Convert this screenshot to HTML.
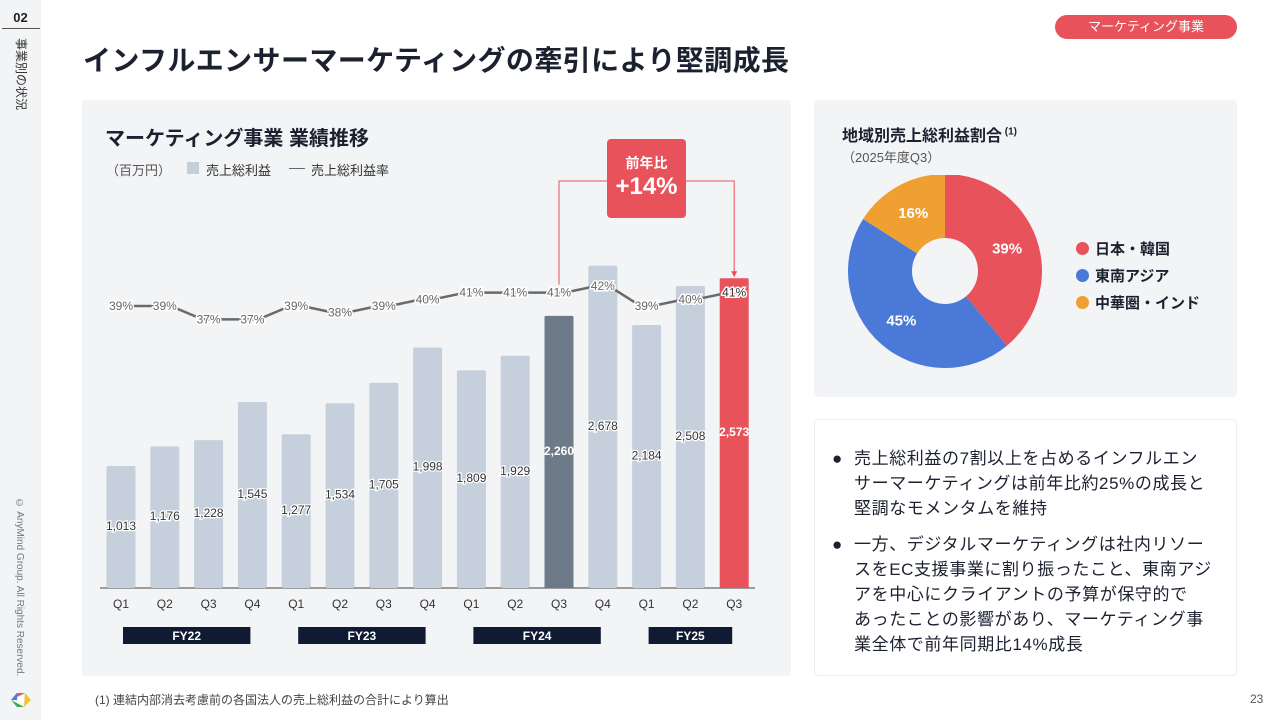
<!DOCTYPE html>
<html><head><meta charset="utf-8"><style>
*{margin:0;padding:0;box-sizing:border-box}
body{width:1280px;height:720px;background:#fff;font-family:"Liberation Sans","Noto Sans CJK JP",sans-serif;position:relative;overflow:hidden;color:#222}
.abs{position:absolute}
</style></head><body>
<div class="abs" style="left:0;top:0;width:41px;height:720px;background:#f3f4f6"></div>
<div class="abs" style="left:0;top:10px;width:41px;text-align:center;font-size:13px;font-weight:bold">02</div>
<div class="abs" style="left:2px;top:28px;width:38px;height:1px;background:#555"></div>
<div class="abs" style="left:13px;top:38px;writing-mode:vertical-rl;text-orientation:sideways;font-size:12px;color:#333">事業別の状況</div>
<div class="abs" style="left:14px;top:498px;writing-mode:vertical-rl;font-size:10px;color:#777">© AnyMind Group. All Rights Reserved.</div>
<svg class="abs" style="left:10px;top:690px" width="22" height="20"><path d="M1 10 L7 3 L15 3 Z" fill="#e8524f"/><path d="M15 3 L21 10 L14 17 Z" fill="#f3c331"/><path d="M1 10 L14 17 L7 17 Z" fill="#3aa957"/><path d="M7 3 L1 10 L7 10 Z" fill="#4a7ddf"/><circle cx="11" cy="10" r="3.5" fill="#fff"/></svg>
<div class="abs" style="left:83px;top:39px;font-size:28px;letter-spacing:0.4px;font-weight:bold;color:#1c2130">インフルエンサーマーケティングの牽引により堅調成長</div>
<div class="abs" style="left:1055px;top:15px;width:182px;height:24px;border-radius:12px;background:#e8525a;color:#fff;font-size:13px;text-align:center;line-height:24px">マーケティング事業</div>

<div class="abs" style="left:82px;top:100px;width:709px;height:576px;background:#f3f4f6;border-radius:4px"></div>
<div class="abs" style="left:105px;top:122px;font-size:20px;font-weight:bold;color:#1c2130">マーケティング事業 業績推移</div>
<div class="abs" style="left:106px;top:160px;font-size:13px;color:#555">（百万円）</div>
<div class="abs" style="left:187px;top:162px;width:12px;height:12px;background:#c6d0dc"></div>
<div class="abs" style="left:206px;top:160px;font-size:13px;color:#333">売上総利益</div>
<div class="abs" style="left:289px;top:168px;width:16px;height:1px;background:#666"></div>
<div class="abs" style="left:311px;top:160px;font-size:13px;color:#333">売上総利益率</div>

<svg class="abs" id="chart" style="left:0;top:0" width="800" height="680"></svg>

<div class="abs" style="left:607px;top:139px;width:79px;height:79px;background:#e8525a;border-radius:4px;color:#fff;text-align:center">
<div style="font-size:14px;font-weight:bold;margin-top:14px">前年比</div>
<div style="font-size:24px;font-weight:bold;margin-top:0px">+14%</div></div>

<div class="abs" style="left:814px;top:100px;width:423px;height:297px;background:#f3f4f6;border-radius:4px"></div>
<div class="abs" style="left:842px;top:122px;font-size:16px;font-weight:bold;color:#1c2130">地域別売上総利益割合<sup style="font-size:10px"> (1)</sup></div>
<div class="abs" style="left:842px;top:147px;font-size:13px;color:#555">（2025年度Q3）</div>
<svg class="abs" id="pie" style="left:840px;top:175px" width="210" height="205"></svg>
<div class="abs" style="left:1076px;top:236px;font-size:15px;font-weight:bold;color:#1c2130;line-height:27px">
<div><span style="display:inline-block;width:13px;height:13px;border-radius:50%;background:#e8525a;vertical-align:-1px;margin-right:6px"></span>日本・韓国</div>
<div><span style="display:inline-block;width:13px;height:13px;border-radius:50%;background:#4b79d8;vertical-align:-1px;margin-right:6px"></span>東南アジア</div>
<div><span style="display:inline-block;width:13px;height:13px;border-radius:50%;background:#f0a030;vertical-align:-1px;margin-right:6px"></span>中華圏・インド</div>
</div>

<div class="abs" style="left:814px;top:419px;width:423px;height:257px;border:1px solid #eceef1;border-radius:4px"></div>
<div class="abs" style="left:832px;top:446px;width:400px;font-size:17px;letter-spacing:0.6px;color:#1c2130;line-height:25px;white-space:nowrap">
<div style="display:flex"><span style="width:22px">●</span><span style="flex:1">売上総利益の7割以上を占めるインフルエン<br>サーマーケティングは前年比約25%の成長と<br>堅調なモメンタムを維持</span></div>
<div style="display:flex;margin-top:11px"><span style="width:22px">●</span><span style="flex:1">一方、デジタルマーケティングは社内リソー<br>スをEC支援事業に割り振ったこと、東南アジ<br>アを中心にクライアントの予算が保守的で<br>あったことの影響があり、マーケティング事<br>業全体で前年同期比14%成長</span></div>
</div>
<div class="abs" style="left:95px;top:691px;font-size:12px;color:#444">(1) 連結内部消去考慮前の各国法人の売上総利益の合計により算出</div>
<div class="abs" style="left:1250px;top:692px;font-size:12px;color:#555">23</div>

<script>
const quarters=["Q1","Q2","Q3","Q4","Q1","Q2","Q3","Q4","Q1","Q2","Q3","Q4","Q1","Q2","Q3"];
const profit=[1013,1176,1228,1545,1277,1534,1705,1998,1809,1929,2260,2678,2184,2508,2573];
const margin=[39,39,37,37,39,38,39,40,41,41,41,42,39,40,41];
const fyLabels=["FY22","FY23","FY24","FY25"];
const fyStart=[0,4,8,12];
const fyEnd=[3,7,11,14];
const pieLabels=["39%","45%","16%"];
const pieValues=[39,45,16];
const pieColors=["#e8525a","#4b79d8","#f0a030"];

const NS="http://www.w3.org/2000/svg";
const svg=document.getElementById('chart');
function mk(t,a,p){const e=document.createElementNS(NS,t);for(const k in a)e.setAttribute(k,a[k]);(p||svg).appendChild(e);return e;}
const base=588;
const x=i=>121+i*43.8;
const yb=v=>base-v*0.1204;
const yl=p=>306-(p-39)*6.7;
const bl=mk('line',{x1:100,x2:755,y1:base,y2:base,stroke:'#444','stroke-width':1});


profit.forEach((v,i)=>{
  const col=i==10?'#6f7a88':i==14?'#e8525a':'#c6d0dc';
  const r=mk('rect',{x:x(i)-14.5,y:yb(v),width:29,height:base-yb(v),fill:col,rx:1.5});
  
  
  const hl=i==10||i==14;
  const t=mk('text',{x:x(i),y:yb(v)+(base-yb(v))*0.5+3,'text-anchor':'middle','font-size':12,fill:hl?'#fff':'#333','font-weight':hl?'bold':'normal',stroke:hl?(i==10?'#6f7a88':'#e8525a'):'#fff','stroke-width':hl?0:2.5,'paint-order':'stroke'});
  t.textContent=v.toLocaleString('en-US');
  
  
  const q=mk('text',{x:x(i),y:608,'text-anchor':'middle','font-size':12,fill:'#333'});
  q.textContent=quarters[i];
  
  
});
let d='';
margin.forEach((p,i)=>{d+=(i?'L':'M')+(x(i)+(i?-6:0))+' '+yl(p)+(i<14?' L'+(x(i)+6)+' '+yl(p)+' ':'');});
const pl=mk('path',{d:d,fill:'none',stroke:'#6a6a6a','stroke-width':2.5});


margin.forEach((p,i)=>{
  const t=mk('text',{x:x(i),y:yl(p)+4,'text-anchor':'middle','font-size':12,fill:i==14?'#333':'#666',stroke:'#fff','stroke-width':3,'paint-order':'stroke'});
  t.textContent=p+'%';
  
  
});
fyLabels.forEach((l,k)=>{
  const x0=x(fyStart[k])+2, x1=x(fyEnd[k])-2;
  const r=mk('rect',{x:x0,y:627,width:x1-x0,height:17,fill:'#101b33'});
  
  
  const t=mk('text',{x:(x0+x1)/2,y:640,'text-anchor':'middle','font-size':12,'font-weight':'bold',fill:'#fff'});
  t.textContent=l;
  
  
});
const c=mk('path',{d:`M${x(10)} ${yl(41)-8} V181 H607 M686 181 H${x(14)} V${yb(2573)-6}`,fill:'none',stroke:'#e8525a','stroke-width':1});


const ar=mk('path',{d:`M${x(14)-3} ${yb(2573)-7} L${x(14)+3} ${yb(2573)-7} L${x(14)} ${yb(2573)-1}Z`,fill:'#e8525a'});



const ps=document.getElementById('pie');
const cx=105,cy=96,R=97,r0=33;
const tot=pieValues.reduce((a,b)=>a+b,0);
let a0=-Math.PI/2;
pieValues.forEach((v,i)=>{
  const a1=a0+v/tot*2*Math.PI;
  const big=a1-a0>Math.PI?1:0;
  const p=(a,rr)=>(cx+rr*Math.cos(a))+' '+(cy+rr*Math.sin(a));
  const s=document.createElementNS(NS,'path');
  s.setAttribute('d',`M${p(a0,R)} A${R} ${R} 0 ${big} 1 ${p(a1,R)} L${p(a1,r0)} A${r0} ${r0} 0 ${big} 0 ${p(a0,r0)}Z`);
  s.setAttribute('fill',pieColors[i]);
  
  
  ps.appendChild(s);
  const am=(a0+a1)/2;
  const t=document.createElementNS(NS,'text');
  t.setAttribute('x',cx+66*Math.cos(am));t.setAttribute('y',cy+66*Math.sin(am)+5);
  t.setAttribute('text-anchor','middle');t.setAttribute('font-size',15);t.setAttribute('font-weight','bold');t.setAttribute('fill','#fff');
  t.textContent=pieLabels[i];
  
  
  ps.appendChild(t);
  a0=a1;
});
</script>
</body></html>
